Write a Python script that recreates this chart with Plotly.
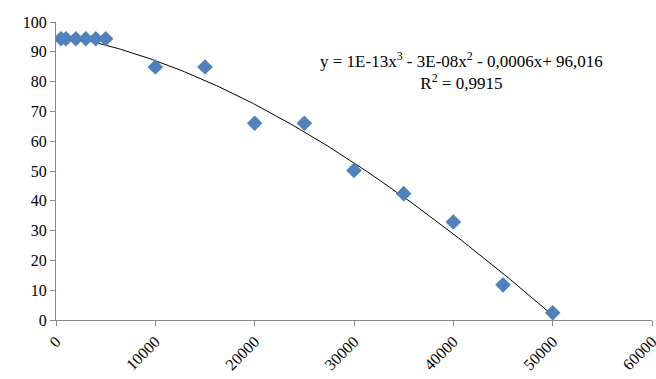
import numpy as np
import plotly.graph_objects as go

x_vals = [500, 1000, 2000, 3000, 4000, 5000, 10000, 15000, 20000, 25000, 30000, 35000, 40000, 45000, 50000]
y_vals = [94.4, 94.4, 94.4, 94.4, 94.4, 94.4, 84.9, 84.9, 66.0, 66.0, 50.2, 42.4, 32.9, 11.8, 2.4]
x_ticks = [0, 10000, 20000, 30000, 40000, 50000, 60000]
y_ticks = [0, 10, 20, 30, 40, 50, 60, 70, 80, 90, 100]
equation = "y = 1E-13x<sup>3</sup> - 3E-08x<sup>2</sup> - 0,0006x+ 96,016<br>R<sup>2</sup> = 0,9915"

coef = np.polyfit(x_vals, y_vals, 3)
xt = np.linspace(min(x_vals), max(x_vals), 200)
yt = np.polyval(coef, xt)

font = "Times New Roman, Liberation Serif, serif"
fig = go.Figure()
fig.add_trace(go.Scatter(x=xt, y=yt, mode="lines", line=dict(color="#000000", width=1), hoverinfo="skip"))
fig.add_trace(go.Scatter(x=x_vals, y=y_vals, mode="markers",
                         marker=dict(symbol="diamond", size=12, color="#4F81BD")))

axis_common = dict(showgrid=False, zeroline=False, showline=True, linecolor="#878787", linewidth=1,
                   ticks="outside", ticklen=5, tickcolor="#878787", automargin=False,
                   tickfont=dict(family=font, size=16, color="#000000"))
fig.update_xaxes(range=[0, 60000], tickvals=x_ticks, ticktext=[str(v) for v in x_ticks],
                 tickangle=-45, ticklabeloverflow="allow", **axis_common)
fig.update_yaxes(range=[0, 100], tickvals=y_ticks, ticktext=[str(v) for v in y_ticks],
                 ticklabeloverflow="allow", **axis_common)

fig.add_annotation(x=0.681, y=0.836, xref="paper", yref="paper", text=equation, showarrow=False,
                   align="center", xanchor="center", yanchor="middle",
                   font=dict(family=font, size=17, color="#000000"))

fig.update_layout(width=656, height=379, margin=dict(l=56, r=4, t=22, b=59),
                  paper_bgcolor="white", plot_bgcolor="white", showlegend=False)
fig.write_html("out.html", config={"displayModeBar": False},
               post_script="document.body.style.margin='0';document.body.style.overflow='hidden';")
